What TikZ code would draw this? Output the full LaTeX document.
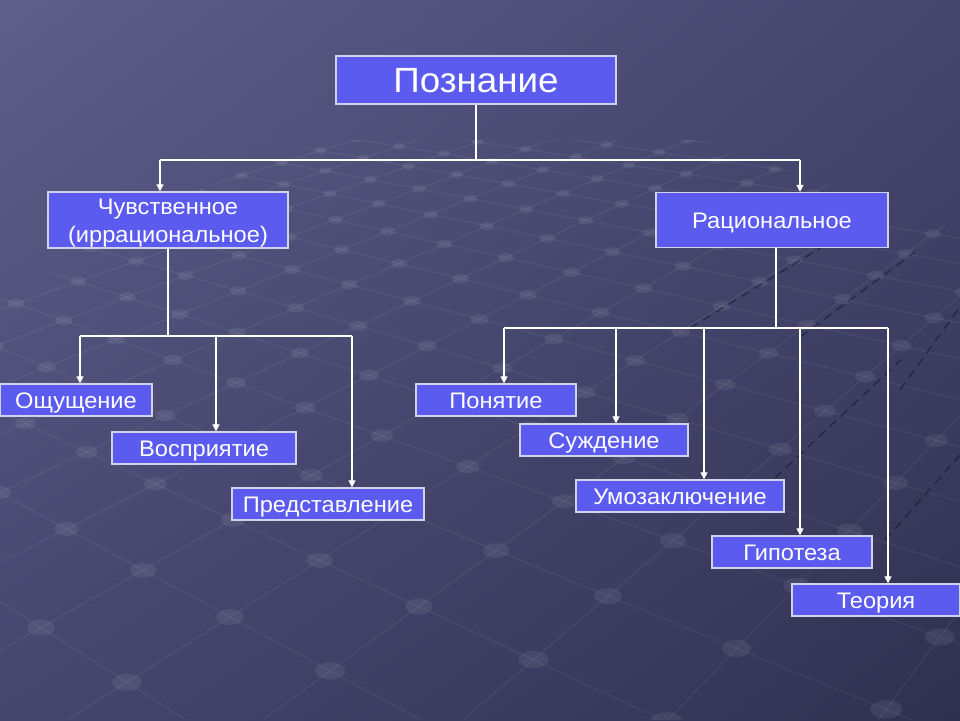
\documentclass[tikz,border=0pt]{standalone}
\usepackage{fontspec}
\setmainfont{Liberation Sans}[FakeStretch=1.05]
\usepackage{tikz}
\usetikzlibrary{arrows.meta,positioning,calc,shadings}

\definecolor{slideBg}{HTML}{45466E}
\definecolor{slideLight}{HTML}{5E5F8A}
\definecolor{slideDark}{HTML}{303150}
\definecolor{boxFill}{HTML}{5B5BF0}
\definecolor{boxLine}{HTML}{D2D2E8}
\definecolor{seam}{HTML}{15162A}

\tikzset{
    topic/.style={draw=boxLine,line width=1.4pt,fill=boxFill,text=white,inner sep=0pt,
        align=center,font=\fontsize{22.5}{28}\selectfont,text height=16pt,text depth=0pt},
    line/.style={draw=white,line width=1.3pt},
    arrow/.style={line,-{Triangle[width=7pt,length=7pt]}},
    floor/.style={draw=white,opacity=0.06,line width=1.2pt},
    knot/.style={fill=white,opacity=0.07},
    seamline/.style={draw=seam,opacity=0.6,line width=1.3pt,dash pattern=on 9pt off 6pt}
}

\begin{document}
\begin{tikzpicture}[x=1pt,y=-1pt]
    % Background
    \shade[upper left=slideLight,upper right=slideBg,lower left=slideBg,lower right=slideDark]
        (0,0) rectangle (960,720);
    \useasboundingbox (0,0) rectangle (960,720);

    % Floor grid in perspective
    \coordinate (vpL) at (-1100,-100);
    \coordinate (vpR) at (1600,-250);
    \coordinate (origin) at (230,617);
    \foreach \m in {0,...,32}{
        \pgfmathsetmacro\f{0.07*(\m-10)/(1+0.07*(\m-10))}
        \coordinate (p\m) at ($(origin)!\f!(vpR)$);
        \coordinate (q\m) at ($(origin)!\f!(vpL)$);
    }
    \begin{scope}
        \clip (0,300) -- (150,210) -- (320,140) -- (700,140) -- (960,230) -- (960,720) -- (0,720) -- cycle;
        \foreach \m in {0,...,32}{
            \draw[floor] (vpL) -- ($(vpL)!3!(p\m)$);
            \draw[floor] (vpR) -- ($(vpR)!3!(q\m)$);
        }
        \foreach \i in {-10,...,22}{
            \foreach \j in {-10,...,22}{
                \pgfmathsetmacro\w{1+0.07*(\i+\j)}
                \ifdim\w pt>0.45pt
                    \pgfmathsetmacro\gx{(230+112*\i-77*\j)/\w}
                    \pgfmathsetmacro\gy{(617-17.5*\i-7*\j)/\w}
                    \fill[knot] (\gx,\gy) ellipse[x radius=14/\w, y radius=8/\w];
                \fi
            }
        }
        % dark seams
        \draw[seamline] (690,328) -- (830,242);
        \draw[seamline] (800,337) -- (915,252);
        \draw[seamline] (775,478) -- (905,356);
        \draw[seamline] (900,390) -- (962,304);
        \draw[seamline] (885,540) -- (960,455);
    \end{scope}

    % Top node
    \node[topic,minimum width=280pt,minimum height=48pt,font=\fontsize{35}{40}\selectfont,text height=25pt] (root) at (476,80) {Познание};

    % Second level
    \node[topic,minimum width=240pt,minimum height=56pt,text height=44pt] (sense) at (168,220) {Чувственное\\(иррациональное)};
    \node[topic,minimum width=232pt,minimum height=55pt] (ratio) at (772,220) {Рациональное};

    % Sense leaves
    \node[topic,minimum width=152pt,minimum height=32pt] (feeling) at (76,400) {Ощущение};
    \node[topic,minimum width=184pt,minimum height=32pt] (perception) at (204,448) {Восприятие};
    \node[topic,minimum width=192pt,minimum height=32pt] (image) at (328,504) {Представление};

    % Rational leaves
    \node[topic,minimum width=160pt,minimum height=32pt] (concept) at (496,400) {Понятие};
    \node[topic,minimum width=168pt,minimum height=32pt] (judgement) at (604,440) {Суждение};
    \node[topic,minimum width=208pt,minimum height=32pt] (inference) at (680,496) {Умозаключение};
    \node[topic,minimum width=160pt,minimum height=32pt] (hypothesis) at (792,552) {Гипотеза};
    \node[topic,minimum width=168pt,minimum height=32pt] (theory) at (876,600) {Теория};

    % Bus points
    \coordinate (topL) at (160,160);
    \coordinate (topR) at (800,160);
    \coordinate (senseL) at (80,336);
    \coordinate (senseM) at (216,336);
    \coordinate (senseR) at (352,336);
    \coordinate (ratioL) at (504,328);
    \coordinate (ratioB) at (616,328);
    \coordinate (ratioC) at (704,328);
    \coordinate (ratioD) at (800,328);
    \coordinate (ratioR) at (888,328);

    % Root to second level
    \draw[line] (root) -- (root |- topL);
    \draw[line] (topL) -- (topR);
    \draw[arrow] (topL) -- (topL |- sense.north);
    \draw[arrow] (topR) -- (topR |- ratio.north);

    % Sense branch
    \draw[line] (sense) -- (sense |- senseL);
    \draw[line] (senseL) -- (senseR);
    \draw[arrow] (senseL) -- (senseL |- feeling.north);
    \draw[arrow] (senseM) -- (senseM |- perception.north);
    \draw[arrow] (senseR) -- (senseR |- image.north);

    % Rational branch
    \draw[line] ([xshift=4pt]ratio.south) -- ([xshift=4pt]ratio.south |- ratioL);
    \draw[line] (ratioL) -- (ratioR);
    \draw[arrow] (ratioL) -- (ratioL |- concept.north);
    \draw[arrow] (ratioB) -- (ratioB |- judgement.north);
    \draw[arrow] (ratioC) -- (ratioC |- inference.north);
    \draw[arrow] (ratioD) -- (ratioD |- hypothesis.north);
    \draw[arrow] (ratioR) -- (ratioR |- theory.north);
\end{tikzpicture}
\end{document}
